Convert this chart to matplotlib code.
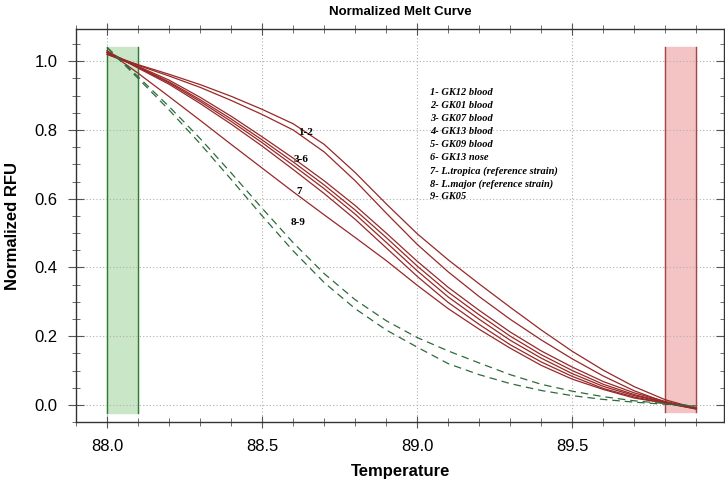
import numpy as np
import matplotlib
matplotlib.use("Agg")
import matplotlib.pyplot as plt

temps = [88.0, 88.1, 88.2, 88.3, 88.4, 88.5, 88.6, 88.7, 88.8, 88.9,
         89.0, 89.1, 89.2, 89.3, 89.4, 89.5, 89.6, 89.7, 89.8, 89.9]

# samples 1-7 (solid red)
rfu_1 = [1.020, 0.990, 0.962, 0.932, 0.898, 0.860, 0.818, 0.758, 0.676, 0.585,
         0.498, 0.422, 0.352, 0.284, 0.218, 0.156, 0.101, 0.053, 0.015, -0.010]
rfu_2 = [1.025, 0.988, 0.957, 0.924, 0.886, 0.845, 0.800, 0.736, 0.652, 0.558,
         0.467, 0.387, 0.315, 0.249, 0.189, 0.134, 0.084, 0.041, 0.008, -0.010]
rfu_3 = [1.020, 0.985, 0.945, 0.895, 0.840, 0.780, 0.718, 0.652, 0.580, 0.500,
         0.418, 0.342, 0.275, 0.212, 0.157, 0.110, 0.068, 0.035, 0.010, -0.010]
rfu_4 = [1.025, 0.983, 0.940, 0.888, 0.832, 0.771, 0.707, 0.640, 0.567, 0.487,
         0.404, 0.328, 0.262, 0.200, 0.146, 0.100, 0.060, 0.030, 0.008, -0.010]
rfu_5 = [1.025, 0.982, 0.937, 0.883, 0.825, 0.763, 0.697, 0.629, 0.555, 0.473,
         0.390, 0.314, 0.249, 0.188, 0.136, 0.091, 0.054, 0.027, 0.007, -0.012]
rfu_6 = [1.030, 0.980, 0.933, 0.877, 0.817, 0.753, 0.685, 0.615, 0.540, 0.457,
         0.374, 0.298, 0.234, 0.175, 0.125, 0.083, 0.048, 0.023, 0.005, -0.012]
rfu_7 = [1.030, 0.965, 0.897, 0.828, 0.758, 0.689, 0.620, 0.553, 0.487, 0.420,
         0.348, 0.280, 0.220, 0.165, 0.115, 0.075, 0.045, 0.020, 0.005, -0.010]
# samples 8-9 (dashed green)
rfu_8 = [1.040, 0.955, 0.868, 0.775, 0.675, 0.572, 0.472, 0.382, 0.306, 0.245,
         0.196, 0.157, 0.122, 0.088, 0.060, 0.040, 0.024, 0.012, 0.004, -0.003]
rfu_9 = [1.040, 0.950, 0.858, 0.760, 0.656, 0.550, 0.448, 0.356, 0.280, 0.218,
         0.168, 0.120, 0.088, 0.062, 0.042, 0.027, 0.016, 0.008, 0.002, -0.004]

red_curves = [rfu_1, rfu_2, rfu_3, rfu_4, rfu_5, rfu_6, rfu_7]
green_curves = [rfu_8, rfu_9]

legend_lines = ["1- GK12 blood", "2- GK01 blood", "3- GK07 blood",
                "4- GK13 blood", "5- GK09 blood", "6- GK13 nose",
                "7- L.tropica (reference strain)",
                "8- L.major (reference strain)", "9- GK05"]
group_labels = ["1-2", "3-6", "7", "8-9"]
group_pos = [(88.64, 0.792), (88.625, 0.715), (88.62, 0.62), (88.615, 0.53)]

# shaded begin / end melt regions
begin_region = (88.0, 88.1)
end_region = (89.8, 89.9)

plt.rcParams['font.family'] = ['Liberation Sans', 'DejaVu Sans']

fig = plt.figure(figsize=(7.25, 4.88), dpi=100)
ax = fig.add_axes([0.105, 0.135, 0.894, 0.805])

ax.fill_between(begin_region, -0.023, 1.042, color="#c9e6c6", zorder=1)
ax.fill_between(end_region, -0.02, 1.042, color="#f4c4c4", zorder=1)
for x in begin_region:
    ax.plot([x, x], [-0.023, 1.042], color="#2f7a34", lw=1.0, zorder=2)
for x in end_region:
    ax.plot([x, x], [-0.02, 1.042], color="#a04848", lw=1.0, zorder=2)

for c in red_curves:
    ax.plot(temps, c, color="#982828", lw=0.9, zorder=3)
for c in green_curves:
    ax.plot(temps, c, color="#2e6b3c", lw=0.9, ls=(0, (6, 4)), zorder=3)

for lab, (x, y) in zip(group_labels, group_pos):
    ax.text(x, y, lab, fontsize=8, fontweight="bold", family="Liberation Serif",
            ha="center", va="center", zorder=4)

for i, s in enumerate(legend_lines):
    ax.text(0.546, 0.839 - i * 0.0332, s, transform=ax.transAxes, fontsize=7.5,
            fontweight="bold", fontstyle="italic", family="Liberation Serif",
            va="center", ha="left")

ax.set_xlim(87.907, 89.99)
ax.set_ylim(-0.0316, 1.093)
ax.set_xticks([88.0, 88.5, 89.0, 89.5])
ax.set_xticks(np.arange(87.9, 90.0, 0.1), minor=True)
ax.set_yticks([0.0, 0.2, 0.4, 0.6, 0.8, 1.0])
ax.set_yticks(np.arange(-0.05, 1.1, 0.05), minor=True)
ax.xaxis.set_major_formatter(matplotlib.ticker.FormatStrFormatter("%.1f"))
ax.yaxis.set_major_formatter(matplotlib.ticker.FormatStrFormatter("%.1f"))

ax.grid(True, which="major", ls=(0, (1, 2)), color="#b0b0b0", lw=0.8)
ax.tick_params(which="both", top=True, right=True, color="#555555",
               labelsize=12, pad=8)
ax.tick_params(axis="y", which="major", direction="inout", length=11)
ax.tick_params(axis="y", which="minor", direction="inout", length=6)
ax.tick_params(axis="x", which="major", direction="inout", length=8)
ax.tick_params(axis="x", which="minor", direction="inout", length=6)
for sp in ax.spines.values():
    sp.set_color("#333333")
    sp.set_linewidth(1.0)

ax.set_title("Normalized Melt Curve", fontsize=9.5, fontweight="bold", pad=10)
ax.set_xlabel("Temperature", fontsize=12, fontweight="bold", labelpad=7)
ax.set_ylabel("Normalized RFU", fontsize=12, fontweight="bold", labelpad=10)

fig.savefig("out.png", dpi=100)
